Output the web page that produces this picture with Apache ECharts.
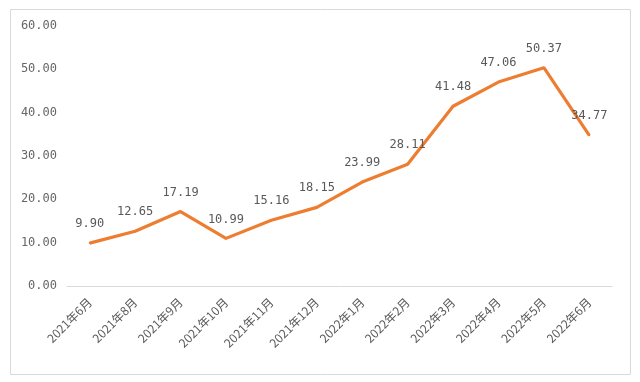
<!DOCTYPE html>
<html><head><meta charset="utf-8">
<script src="https://cdn.jsdelivr.net/npm/echarts@6/dist/echarts.min.js"></script>
<style>html,body{margin:0;padding:0;background:#fff}#c{width:640px;height:382px}</style>
</head><body><div id="c"></div>
<script>
const categories = ['2021年6月','2021年8月','2021年9月','2021年10月','2021年11月','2021年12月','2022年1月','2022年2月','2022年3月','2022年4月','2022年5月','2022年6月'];
const values = [9.90, 12.65, 17.19, 10.99, 15.16, 18.15, 23.99, 28.11, 41.48, 47.06, 50.37, 34.77];
const chart = echarts.init(document.getElementById('c'));
chart.setOption({
  animation: false,
  backgroundColor: '#fff',
  graphic: [{type:'rect', shape:{x:10.5,y:9.5,width:620,height:365}, style:{fill:'none', stroke:'#d9d9d9', lineWidth:1}, silent:true, z:-1}],
  grid: {left: 67, right: 28, top: 26, bottom: 96},
  xAxis: {
    type: 'category', data: categories, boundaryGap: true,
    axisLine: {lineStyle: {color: '#d9d9d9'}},
    axisTick: {show: false},
    axisLabel: {rotate: 45, color: '#595959', fontSize: 12, fontFamily: 'Noto Sans CJK SC', margin: 14, interval: 0}
  },
  yAxis: {
    type: 'value', min: 0, max: 60, interval: 10,
    axisLine: {show: false}, axisTick: {show: false}, splitLine: {show: false},
    axisLabel: {color: '#666', fontSize: 12, fontFamily: 'DejaVu Sans Mono', margin: 10, formatter: v => v.toFixed(2)}
  },
  series: [{
    type: 'line', data: values, symbol: 'circle', symbolSize: 2, showSymbol: true,
    itemStyle: {color: '#ED7D31'},
    lineStyle: {color: '#ED7D31', width: 3.2},
    labelLayout: {hideOverlap: false},
    label: {show: true, position: 'top', distance: 12, color: '#595959', fontSize: 12, fontFamily: 'DejaVu Sans Mono', formatter: p => p.value.toFixed(2)}
  }]
});
</script></body></html>
